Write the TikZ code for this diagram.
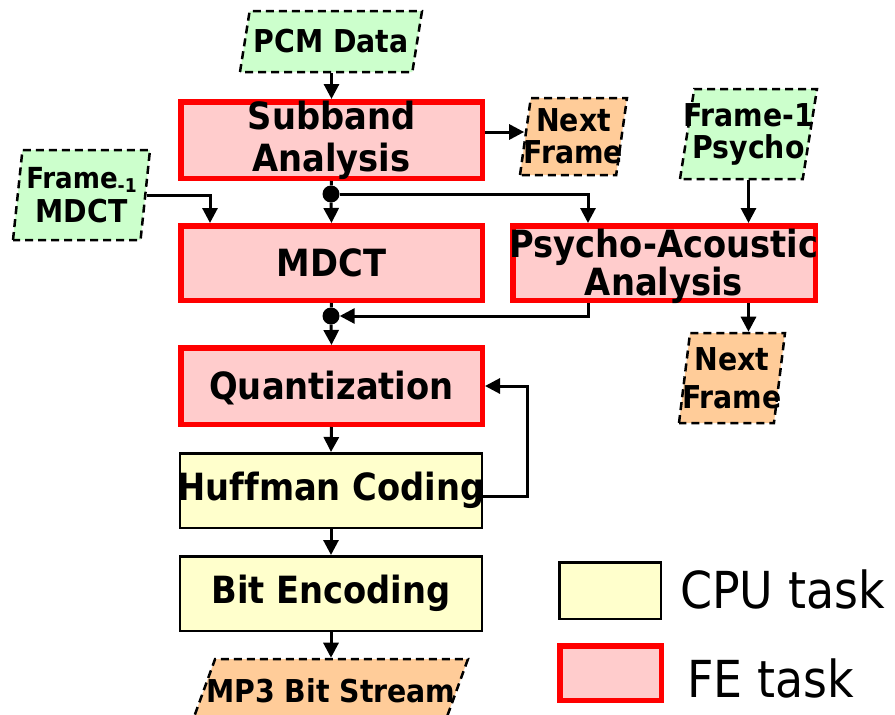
\documentclass[tikz,border=0pt]{standalone}
\usepackage{fontspec}
\setmainfont{DejaVu Sans Condensed}[Ligatures=NoCommon]
\usetikzlibrary{shapes.geometric,arrows.meta}

\definecolor{fepink}{HTML}{FFCCCC}
\definecolor{fered}{HTML}{FF0000}
\definecolor{cpuyellow}{HTML}{FFFFCC}
\definecolor{ingreen}{HTML}{CCFFCC}
\definecolor{outorange}{HTML}{FFCC99}

\newcommand\boxfont{\bfseries\fontsize{37.5}{42}\selectfont}
\newcommand\iofont{\bfseries\fontsize{31.5}{33}\selectfont}
\newcommand\legfont{\fontsize{51}{56}\selectfont}

\tikzset{
  fetask/.style={rectangle, draw=fered, fill=fepink, line width=5.5pt,
    inner sep=0pt, minimum width=301.5pt},
  cputask/.style={rectangle, draw=black, fill=cpuyellow, line width=2.5pt,
    inner sep=0pt, minimum width=302pt},
  % stage names are set as labels so long names may run over the frame
  boxtext/.style={font=\boxfont, align=center, inner sep=0pt},
  % slanted data box: body height given as text height so the slant is kept
  iobox/.style={trapezium, trapezium left angle=81, trapezium right angle=99,
    trapezium stretches body, draw=black, line width=2.5pt,
    dash pattern=on 8pt off 5pt, inner sep=0pt, text depth=0pt,
    minimum height=0pt},
  inbox/.style={iobox, fill=ingreen},
  outbox/.style={iobox, fill=outorange},
  iotext/.style={font=\iofont, align=center, inner sep=0pt},
  wire/.style={line width=3pt},
  conn/.style={wire, -{Triangle[length=15pt,width=15pt]}},
  junction/.style={circle, fill=black, inner sep=0pt, minimum size=17pt},
  legendtext/.style={font=\legfont, inner sep=0pt, anchor=base west}
}

\begin{document}
\begin{tikzpicture}[x=1pt,y=-1pt]
\useasboundingbox (0,0) rectangle (895,715);

% processing stages
\node[fetask, minimum height=76.5pt,
  label={[boxtext]center:{Subband\\Analysis}}] (sub) at (331.5,140) {};
\node[fetask, minimum height=74.5pt,
  label={[boxtext]center:MDCT}] (mdct) at (331.5,263) {};
\node[fetask, minimum width=302.5pt, minimum height=74.5pt,
  label={[boxtext, yshift=-3pt]center:{Psycho-Acoustic\\[-4pt]Analysis}}] (psy) at (664,263) {};
\node[fetask, minimum height=76.5pt,
  label={[boxtext, yshift=-2pt]center:Quantization}] (quant) at (331.5,386) {};
\node[cputask, minimum height=74.5pt,
  label={[boxtext]center:Huffman Coding}] (huff) at (331,490.5) {};
\node[cputask, minimum height=74.5pt,
  label={[boxtext]center:Bit Encoding}] (bit) at (331,593.5) {};

% data in / data out
\node[inbox, minimum width=182pt, text height=61pt,
  label={[iotext]center:PCM Data}] (pcm) at (331,41.5) {};
\node[outbox, trapezium left angle=82, trapezium right angle=98,
  minimum width=107pt, text height=77pt,
  label={[iotext]center:{Next\\[-1pt]Frame}}] (nf1) at (573.5,136.5) {};
\node[inbox, minimum width=137pt, text height=90pt,
  label={[iotext]center:{Frame-1\\[-1pt]Psycho}}] (fp) at (748.5,134) {};
\node[outbox, trapezium left angle=83, trapezium right angle=97,
  minimum width=106pt, text height=90pt,
  label={[iotext]center:{Next\\[5pt]Frame}}] (nf2) at (732,378) {};
\node[inbox, trapezium left angle=84, trapezium right angle=96,
  minimum width=137pt, text height=90pt,
  label={[iotext]center:{{\fontsize{29}{33}\selectfont Frame}\raisebox{-4pt}{\fontsize{19}{19}\selectfont -1}\\[1pt]MDCT}}] (fm) at (81.5,195) {};
\node[outbox, trapezium left angle=70, trapezium right angle=110,
  minimum width=282pt, text height=80pt,
  label={[iotext, xshift=4pt, yshift=8pt]center:MP3 Bit Stream}] (mp3) at (327,699) {};

% branch points
\node[junction] (dot1) at (331,194) {};
\node[junction] (dot2) at (331,316) {};

% connectors
\draw[conn] (pcm.south -| sub.north) -- (sub.north);
\draw[conn] ([yshift=8pt]sub.east) -- ([yshift=8pt]sub.east -| nf1.west);
\draw[wire] (sub.south) -- (dot1);
\draw[conn] (dot1) -- (mdct.north);
\draw[conn] (dot1) -| ([xshift=78pt]psy.north west);
\draw[conn] (fm.east) -| ([xshift=32pt]mdct.north west);
\draw[conn] (fp.south) -- (fp.south |- psy.north);
\draw[conn] (fp.south |- psy.south) -- (fp.south |- nf2.north);
\draw[wire] (mdct.south) -- (dot2);
\draw[conn] ([xshift=78pt]psy.south west) |- (dot2.east);
\draw[conn] (dot2) -- (quant.north);
\draw[conn] (quant.south) -- (huff.north);
\draw[conn] (huff.south) -- (bit.north);
\draw[conn] (bit.south) -- (bit.south |- mp3.north);
\draw[conn] ([yshift=-6pt]huff.east) -- ++(44.5,0) |- (quant.east);

% legend
\node[cputask, minimum width=101.5pt, minimum height=56.5pt] (legcpu) at (610,590.5) {};
\node[fetask, minimum width=101.5pt, minimum height=54.5pt] (legfe) at (610.5,673) {};
\node[legendtext] (legcputext) at (680,608) {CPU task};
\node[legendtext] (legfetext) at (687,697) {FE task};
\end{tikzpicture}
\end{document}
